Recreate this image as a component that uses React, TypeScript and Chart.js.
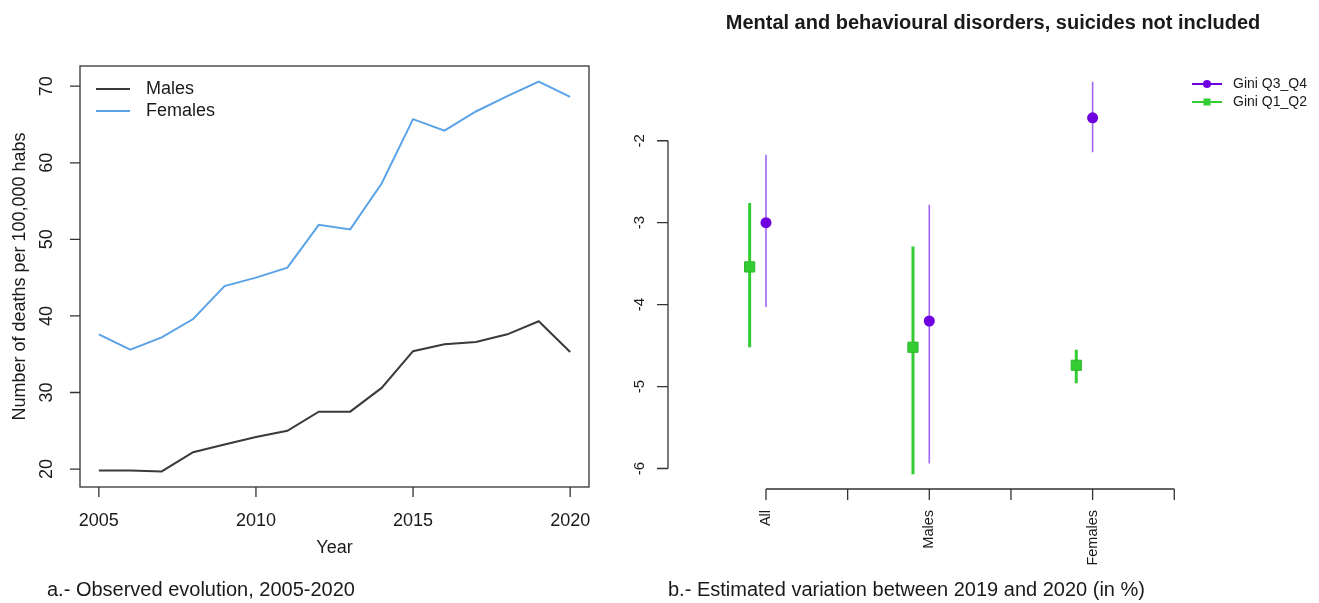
import React, { useEffect, useRef } from "react";
import { Chart, registerables } from "chart.js";

Chart.register(...registerables);

// ---------- Data: panel a ----------
const years = [2005, 2006, 2007, 2008, 2009, 2010, 2011, 2012, 2013, 2014, 2015, 2016, 2017, 2018, 2019, 2020];
const males = [19.8, 19.8, 19.7, 22.2, 23.2, 24.2, 25.0, 27.5, 27.5, 30.6, 35.4, 36.3, 36.6, 37.6, 39.3, 35.3];
const females = [37.6, 35.6, 37.2, 39.6, 43.9, 45.0, 46.3, 51.9, 51.3, 57.3, 65.7, 64.2, 66.7, 68.7, 70.6, 68.6];
const leftYTicks = [20, 30, 40, 50, 60, 70];
const leftXTicks = [2005, 2010, 2015, 2020];

// ---------- Data: panel b ----------
const groups = ["All", "Males", "Females"];
const q34Est = [-3.0, -4.2, -1.72];
const q34Low = [-4.03, -5.94, -2.14];
const q34High = [-2.17, -2.78, -1.28];
const q12Est = [-3.54, -4.52, -4.74];
const q12Low = [-4.52, -6.07, -4.96];
const q12High = [-2.76, -3.29, -4.55];
const rightYTicks = [-6, -5, -4, -3, -2];
const rightXTickPos = [1, 1.5, 2, 2.5, 3, 3.5];

const FONT = '"Liberation Sans", Arial, Helvetica, sans-serif';
const AXIS = "#333333";
const TEXT = "#1a1a1a";
const MALE_COL = "#3a3a3a";
const FEMALE_COL = "#5ba3e6";
const PURPLE = "#6e00e0";
const PURPLE_BAR = "#a264f2";
const GREEN = "#33cc33";
const OFFSET = 0.1;

function rotText(ctx: CanvasRenderingContext2D, text: string, x: number, y: number, align: CanvasTextAlign) {
  ctx.save();
  ctx.translate(x, y);
  ctx.rotate(-Math.PI / 2);
  ctx.textAlign = align;
  ctx.textBaseline = "middle";
  ctx.fillText(text, 0, 0);
  ctx.restore();
}

const leftAxesPlugin = {
  id: "leftAxes",
  afterDraw(chart: any) {
    const { ctx, chartArea: a } = chart;
    const xs = chart.scales.x;
    const ys = chart.scales.y;
    ctx.save();
    ctx.strokeStyle = AXIS;
    ctx.lineWidth = 1.3;
    ctx.strokeRect(a.left, a.top, a.right - a.left, a.bottom - a.top);
    ctx.beginPath();
    for (const v of leftYTicks) {
      const py = ys.getPixelForValue(v);
      ctx.moveTo(a.left, py);
      ctx.lineTo(a.left - 10, py);
    }
    for (const v of leftXTicks) {
      const px = xs.getPixelForValue(v);
      ctx.moveTo(px, a.bottom);
      ctx.lineTo(px, a.bottom + 10);
    }
    ctx.stroke();

    ctx.fillStyle = TEXT;
    ctx.font = `18px ${FONT}`;
    for (const v of leftYTicks) {
      rotText(ctx, String(v), 47, ys.getPixelForValue(v), "center");
    }
    ctx.textAlign = "center";
    ctx.textBaseline = "middle";
    for (const v of leftXTicks) {
      ctx.fillText(String(v), xs.getPixelForValue(v), 521);
    }
    ctx.fillText("Year", (a.left + a.right) / 2, 548);
    rotText(ctx, "Number of deaths per 100,000 habs", 20, (a.top + a.bottom) / 2, "center");

    // legend
    const leg = [
      { label: "Males", color: MALE_COL, y: 89 },
      { label: "Females", color: FEMALE_COL, y: 111 },
    ];
    ctx.lineWidth = 2;
    ctx.textAlign = "left";
    for (const l of leg) {
      ctx.strokeStyle = l.color;
      ctx.beginPath();
      ctx.moveTo(96, l.y);
      ctx.lineTo(130, l.y);
      ctx.stroke();
      ctx.fillStyle = TEXT;
      ctx.fillText(l.label, 146, l.y);
    }
    ctx.restore();
  },
};

const rightAxesPlugin = {
  id: "rightAxes",
  afterDraw(chart: any) {
    const { ctx, chartArea: a } = chart;
    const xs = chart.scales.x;
    const ys = chart.scales.y;
    ctx.save();
    ctx.strokeStyle = AXIS;
    ctx.lineWidth = 1.3;
    ctx.beginPath();
    ctx.moveTo(a.left, ys.getPixelForValue(rightYTicks[rightYTicks.length - 1]));
    ctx.lineTo(a.left, ys.getPixelForValue(rightYTicks[0]));
    for (const v of rightYTicks) {
      const py = ys.getPixelForValue(v);
      ctx.moveTo(a.left, py);
      ctx.lineTo(a.left - 11, py);
    }
    ctx.moveTo(xs.getPixelForValue(rightXTickPos[0]), a.bottom);
    ctx.lineTo(xs.getPixelForValue(rightXTickPos[rightXTickPos.length - 1]), a.bottom);
    for (const v of rightXTickPos) {
      const px = xs.getPixelForValue(v);
      ctx.moveTo(px, a.bottom);
      ctx.lineTo(px, a.bottom + 11);
    }
    ctx.stroke();

    ctx.fillStyle = TEXT;
    ctx.font = `15px ${FONT}`;
    for (const v of rightYTicks) {
      rotText(ctx, String(v), 40, ys.getPixelForValue(v), "center");
    }
    ctx.font = `14.5px ${FONT}`;
    groups.forEach((g, i) => {
      rotText(ctx, g, xs.getPixelForValue(i + 1), a.bottom + 21, "right");
    });

    // legend
    ctx.font = `14px ${FONT}`;
    ctx.textAlign = "left";
    ctx.textBaseline = "middle";
    const lx0 = 592, lx1 = 622, lxm = 607;
    ctx.lineWidth = 2;
    ctx.strokeStyle = PURPLE;
    ctx.beginPath();
    ctx.moveTo(lx0, 84);
    ctx.lineTo(lx1, 84);
    ctx.stroke();
    ctx.fillStyle = PURPLE;
    ctx.beginPath();
    ctx.arc(lxm, 84, 4, 0, Math.PI * 2);
    ctx.fill();
    ctx.strokeStyle = GREEN;
    ctx.beginPath();
    ctx.moveTo(lx0, 102);
    ctx.lineTo(lx1, 102);
    ctx.stroke();
    ctx.fillStyle = GREEN;
    ctx.fillRect(lxm - 3.5, 102 - 3.5, 7, 7);
    ctx.fillStyle = TEXT;
    ctx.fillText("Gini Q3_Q4", 633, 84);
    ctx.fillText("Gini Q1_Q2", 633, 102);
    ctx.restore();
  },
};

function barData(low: number[], high: number[], shift: number) {
  const out: any[] = [];
  low.forEach((lo, i) => {
    out.push({ x: i + 1 + shift, y: lo });
    out.push({ x: i + 1 + shift, y: high[i] });
    out.push({ x: i + 1 + shift, y: null });
  });
  return out;
}

export default function App() {
  const leftRef = useRef<HTMLCanvasElement>(null);
  const rightRef = useRef<HTMLCanvasElement>(null);

  useEffect(() => {
    const left = new Chart(leftRef.current as HTMLCanvasElement, {
      type: "line",
      data: {
        datasets: [
          {
            label: "Males",
            data: years.map((yr, i) => ({ x: yr, y: males[i] })),
            borderColor: MALE_COL,
            borderWidth: 2,
            pointRadius: 0,
            tension: 0,
            fill: false,
          },
          {
            label: "Females",
            data: years.map((yr, i) => ({ x: yr, y: females[i] })),
            borderColor: FEMALE_COL,
            borderWidth: 2,
            pointRadius: 0,
            tension: 0,
            fill: false,
          },
        ],
      },
      options: {
        animation: false,
        responsive: false,
        maintainAspectRatio: false,
        events: [],
        layout: { padding: { left: 80, top: 66, right: 11, bottom: 116 } },
        plugins: { legend: { display: false }, tooltip: { enabled: false } },
        scales: {
          x: { type: "linear", min: 2004.4, max: 2020.6, display: false },
          y: { type: "linear", min: 17.66, max: 72.64, display: false },
        },
      },
      plugins: [leftAxesPlugin],
    });

    const right = new Chart(rightRef.current as HTMLCanvasElement, {
      type: "scatter",
      data: {
        datasets: [
          {
            label: "Gini Q3_Q4",
            data: q34Est.map((v, i) => ({ x: i + 1, y: v })),
            pointStyle: "circle",
            pointRadius: 5.5,
            backgroundColor: PURPLE,
            borderColor: PURPLE,
            borderWidth: 0,
            showLine: false,
          },
          {
            label: "Gini Q1_Q2",
            data: q12Est.map((v, i) => ({ x: i + 1 - OFFSET, y: v })),
            pointStyle: "rect",
            pointRadius: 7.2,
            backgroundColor: GREEN,
            borderColor: "#2bb82b",
            borderWidth: 1,
            showLine: false,
          },
          {
            label: "Q3_Q4 CI",
            data: barData(q34Low, q34High, 0),
            borderColor: PURPLE_BAR,
            borderWidth: 1.6,
            pointRadius: 0,
            showLine: true,
            spanGaps: false,
          },
          {
            label: "Q1_Q2 CI",
            data: barData(q12Low, q12High, -OFFSET),
            borderColor: GREEN,
            borderWidth: 3,
            pointRadius: 0,
            showLine: true,
            spanGaps: false,
          },
        ],
      },
      options: {
        animation: false,
        responsive: false,
        maintainAspectRatio: false,
        events: [],
        layout: { padding: { left: 68, top: 66, right: 128.4, bottom: 114 } },
        plugins: { legend: { display: false }, tooltip: { enabled: false } },
        scales: {
          x: { type: "linear", min: 0.4, max: 3.6, display: false },
          y: { type: "linear", min: -6.25, max: -1.088, display: false },
        },
      },
      plugins: [rightAxesPlugin],
    });

    return () => {
      left.destroy();
      right.destroy();
    };
  }, []);

  return (
    <div
      style={{
        position: "absolute",
        left: 0,
        top: 0,
        width: 1319,
        height: 603,
        background: "#ffffff",
        fontFamily: FONT,
        color: TEXT,
        overflow: "hidden",
      }}
    >
      <canvas ref={leftRef} width={600} height={603} style={{ position: "absolute", left: 0, top: 0 }} />
      <canvas ref={rightRef} width={719} height={603} style={{ position: "absolute", left: 600, top: 0 }} />
      <div
        style={{
          position: "absolute",
          left: 693,
          top: 12,
          width: 600,
          textAlign: "center",
          fontWeight: "bold",
          fontSize: 20,
          lineHeight: "20px",
          whiteSpace: "nowrap",
        }}
      >
        Mental and behavioural disorders, suicides not included
      </div>
      <div
        style={{
          position: "absolute",
          left: 47,
          top: 579,
          fontSize: 20,
          lineHeight: "20px",
          whiteSpace: "nowrap",
        }}
      >
        a.- Observed evolution, 2005-2020
      </div>
      <div
        style={{
          position: "absolute",
          left: 668,
          top: 579,
          fontSize: 20,
          lineHeight: "20px",
          whiteSpace: "nowrap",
        }}
      >
        b.- Estimated variation between 2019 and 2020 (in %)
      </div>
    </div>
  );
}
